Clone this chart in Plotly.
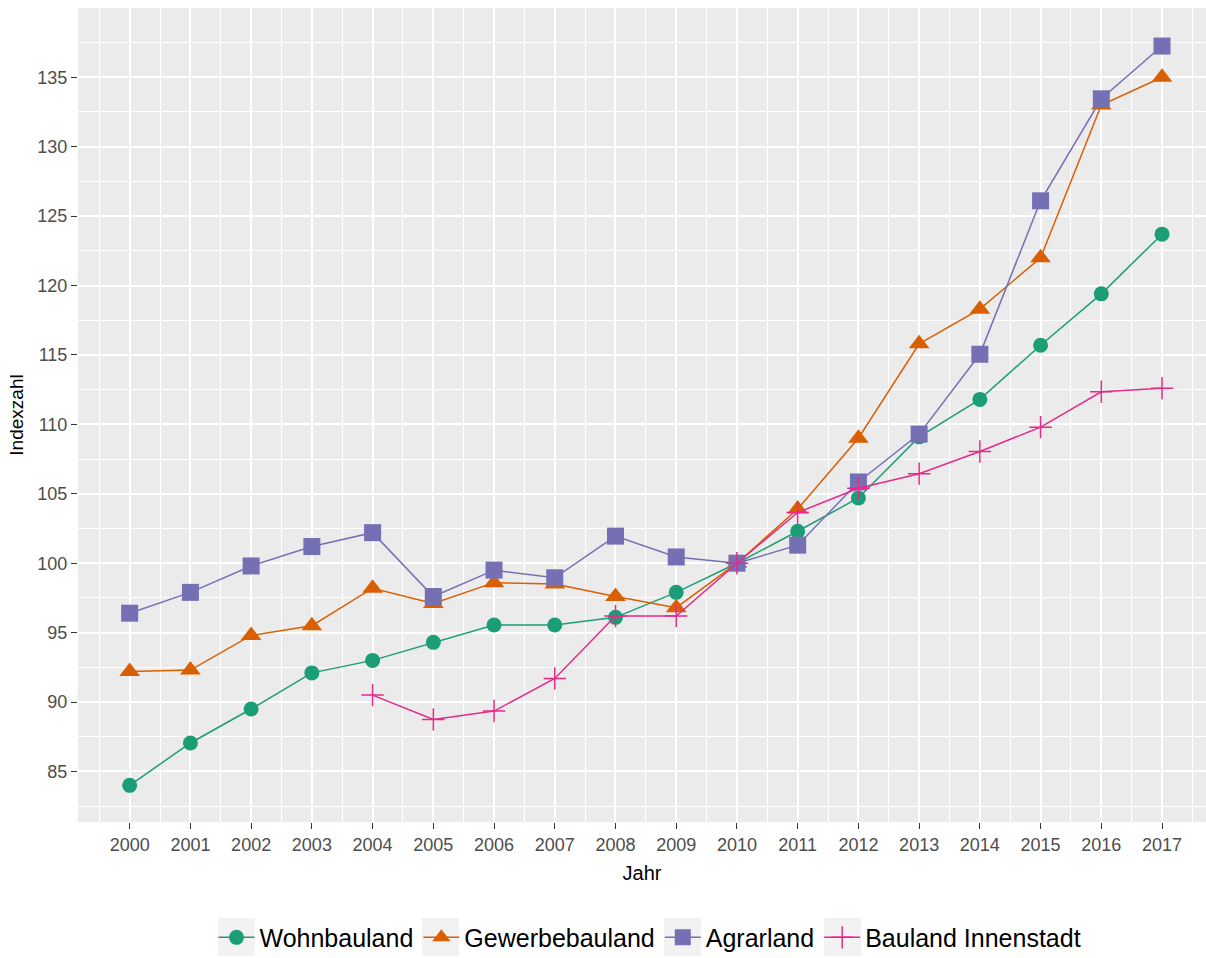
import plotly.graph_objects as go

years = list(range(2000, 2018))

wohnbauland = [84.0, 87.05, 89.5, 92.1, 93.0, 94.3, 95.55, 95.55, 96.1, 97.9,
               100.0, 102.3, 104.7, 109.1, 111.8, 115.7, 119.4, 123.7]
gewerbebauland = [92.2, 92.3, 94.8, 95.5, 98.2, 97.1, 98.6, 98.5, 97.6, 96.8,
                  100.0, 103.9, 109.0, 115.8, 118.3, 122.0, 133.0, 135.0]
agrarland = [96.4, 97.9, 99.8, 101.2, 102.2, 97.6, 99.5, 98.95, 101.95, 100.45,
             100.0, 101.3, 105.85, 109.3, 115.05, 126.1, 133.45, 137.25]
bauland_innenstadt = [None, None, None, None, 90.5, 88.75, 89.35, 91.7, 96.2, 96.2,
                      100.0, 103.65, 105.4, 106.45, 108.05, 109.8, 112.35, 112.6]

series_names = ["Wohnbauland", "Gewerbebauland", "Agrarland", "Bauland Innenstadt"]
series_values = [wohnbauland, gewerbebauland, agrarland, bauland_innenstadt]
colors = ["#1B9E77", "#D95F02", "#7570B3", "#E7298A"]
symbols = ["circle", "triangle-up", "square", "cross-thin"]
sizes = [15, 18, 17, 16]

# legend key background boxes (pixel centres of the legend symbols)
legend_key_centres_px = [236.5, 440.5, 682.5, 842.5]

fig = go.Figure()
for name, vals, col, sym, sz in zip(series_names, series_values, colors, symbols, sizes):
    marker = dict(symbol=sym, size=sz, color=col)
    if sym == "cross-thin":
        marker["line"] = dict(color=col, width=1.5)
    else:
        marker["line"] = dict(width=0)
    fig.add_trace(go.Scatter(
        x=years, y=vals, name=name, mode="lines+markers",
        line=dict(color=col, width=1.5),
        marker=marker,
        connectgaps=False,
    ))

font_family = "Liberation Sans, Arial, sans-serif"

L, R, T, B, W, H = 78, 0, 8, 136, 1206, 958
pw, ph = W - L - R, H - T - B

shapes = []
for cx in legend_key_centres_px:
    shapes.append(dict(
        type="rect", xref="paper", yref="paper", layer="below",
        x0=(cx - 18.5 - L) / pw, x1=(cx + 18.5 - L) / pw,
        y0=(H - B - 956) / ph, y1=(H - B - 918) / ph,
        fillcolor="#F2F2F2", line=dict(width=0),
    ))

fig.update_layout(
    width=W, height=H,
    paper_bgcolor="white",
    plot_bgcolor="#EBEBEB",
    margin=dict(l=L, r=R, t=T, b=B, autoexpand=False),
    font=dict(family=font_family, color="#000000"),
    showlegend=True,
    shapes=shapes,
    legend=dict(
        orientation="h", x=(650 - L) / pw, xanchor="center", y=-0.142, yanchor="middle",
        font=dict(size=25, family=font_family, color="#000000"),
        bgcolor="rgba(0,0,0,0)", itemwidth=36,
    ),
    xaxis=dict(
        range=[1999.149, 2017.724],
        tickmode="array", tickvals=years, ticktext=[str(y) for y in years],
        showgrid=True, gridcolor="white", gridwidth=1.6,
        minor=dict(tickmode="linear", tick0=1999.5, dtick=1, showgrid=True,
                   gridcolor="white", gridwidth=1.0, ticks=""),
        zeroline=False, showline=False,
        ticks="outside", ticklen=6, tickcolor="#333333", tickwidth=1.2,
        tickfont=dict(size=18, color="#4D4D4D", family=font_family),
        title=dict(text="Jahr", font=dict(size=20, color="#000000", family=font_family), standoff=12),
    ),
    yaxis=dict(
        range=[81.36, 139.99],
        tickmode="linear", tick0=85, dtick=5,
        showgrid=True, gridcolor="white", gridwidth=1.6,
        minor=dict(tickmode="linear", tick0=82.5, dtick=5, showgrid=True,
                   gridcolor="white", gridwidth=1.0, ticks=""),
        zeroline=False, showline=False,
        ticks="outside", ticklen=6, tickcolor="#333333", tickwidth=1.2,
        tickfont=dict(size=18, color="#4D4D4D", family=font_family),
        title=dict(text="Indexzahl", font=dict(size=19, color="#000000", family=font_family), standoff=8),
    ),
)

fig.write_html("out.html", post_script="document.body.style.margin='0px';",
               config={"displayModeBar": False})
